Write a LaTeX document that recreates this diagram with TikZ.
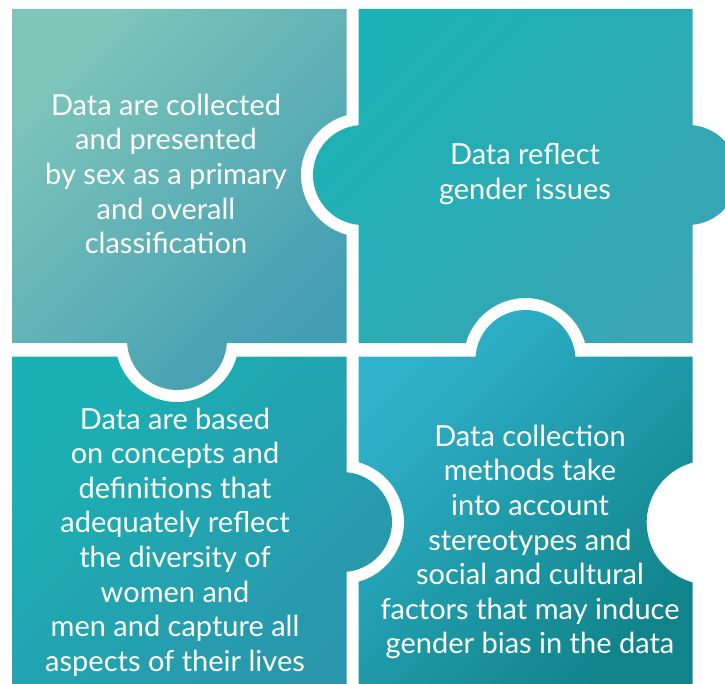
\documentclass[tikz,border=0pt]{standalone}
\usepackage{fontspec}
\setmainfont{Lato}
\definecolor{tlA}{RGB}{126,197,186}
\definecolor{tlB}{RGB}{66,158,178}
\definecolor{trA}{RGB}{27,178,181}
\definecolor{trB}{RGB}{58,165,180}
\definecolor{blA}{RGB}{27,177,180}
\definecolor{blB}{RGB}{42,150,172}
\definecolor{brA}{RGB}{48,178,204}
\definecolor{brB}{RGB}{16,132,138}

\begin{document}
\begin{tikzpicture}[
    x=1pt, y=-1pt,
    piece/.style={draw=none, shading angle=45},
    txt/.style={text=white, align=center, font=\fontsize{29}{34.6}\selectfont}
]
\clip (0,0) rectangle (725,684);

% top left
\shade[left color=tlA, right color=tlB, piece]
  (12,9) -- (346.5,9) -- (346.5,115.24)
  arc[start angle=-105.43, end angle=-254.57, radius=62]
  -- (346.5,343) -- (226.91,343)
  arc[start angle=3.44, end angle=176.56, radius=50]
  -- (12,343) -- cycle;

% top right
\shade[left color=trA, right color=trB, piece]
  (358.5,9) -- (692.7,9) -- (692.7,125.22)
  arc[start angle=-84.61, end angle=84.61, radius=50]
  -- (692.7,343) -- (585.12,343)
  arc[start angle=-15.92, end angle=-164.08, radius=62]
  -- (358.5,343) -- (358.5,224.8)
  arc[start angle=95.16, end angle=264.84, radius=50]
  -- cycle;

% bottom left
\shade[left color=blA, right color=blB, piece]
  (12,356.5) -- (117.24,356.5)
  arc[start angle=164.57, end angle=15.43, radius=62]
  -- (346.5,356.5) -- (346.5,472.2)
  arc[start angle=-84.84, end angle=84.84, radius=50]
  -- (346.5,690) -- (12,690) -- cycle;

% bottom right
\shade[left color=brA, right color=brB, piece]
  (358.5,356.5) -- (475.62,356.5)
  arc[start angle=-175.99, end angle=-4.01, radius=50]
  -- (692.7,356.5) -- (692.7,462.6)
  arc[start angle=-104.95, end angle=-255.05, radius=62]
  -- (692.7,690) -- (358.5,690) -- (358.5,581.76)
  arc[start angle=74.57, end angle=-74.57, radius=62]
  -- cycle;

\node (sex) [txt] at (166,174) {Data are collected\\and presented\\by sex as a primary\\and overall\\classification};
\node (gender) [txt] at (525,174) {Data reflect\\gender issues};
\node (concepts) [txt] at (175,542) {Data are based\\on concepts and\\definitions that\\adequately reflect\\the diversity of\\women and\\men and capture all\\aspects of their lives};
\node (methods) [txt] at (530,542) {Data collection\\methods take\\into account\\stereotypes and\\social and cultural\\factors that may induce\\gender bias in the data};

\end{tikzpicture}
\end{document}
